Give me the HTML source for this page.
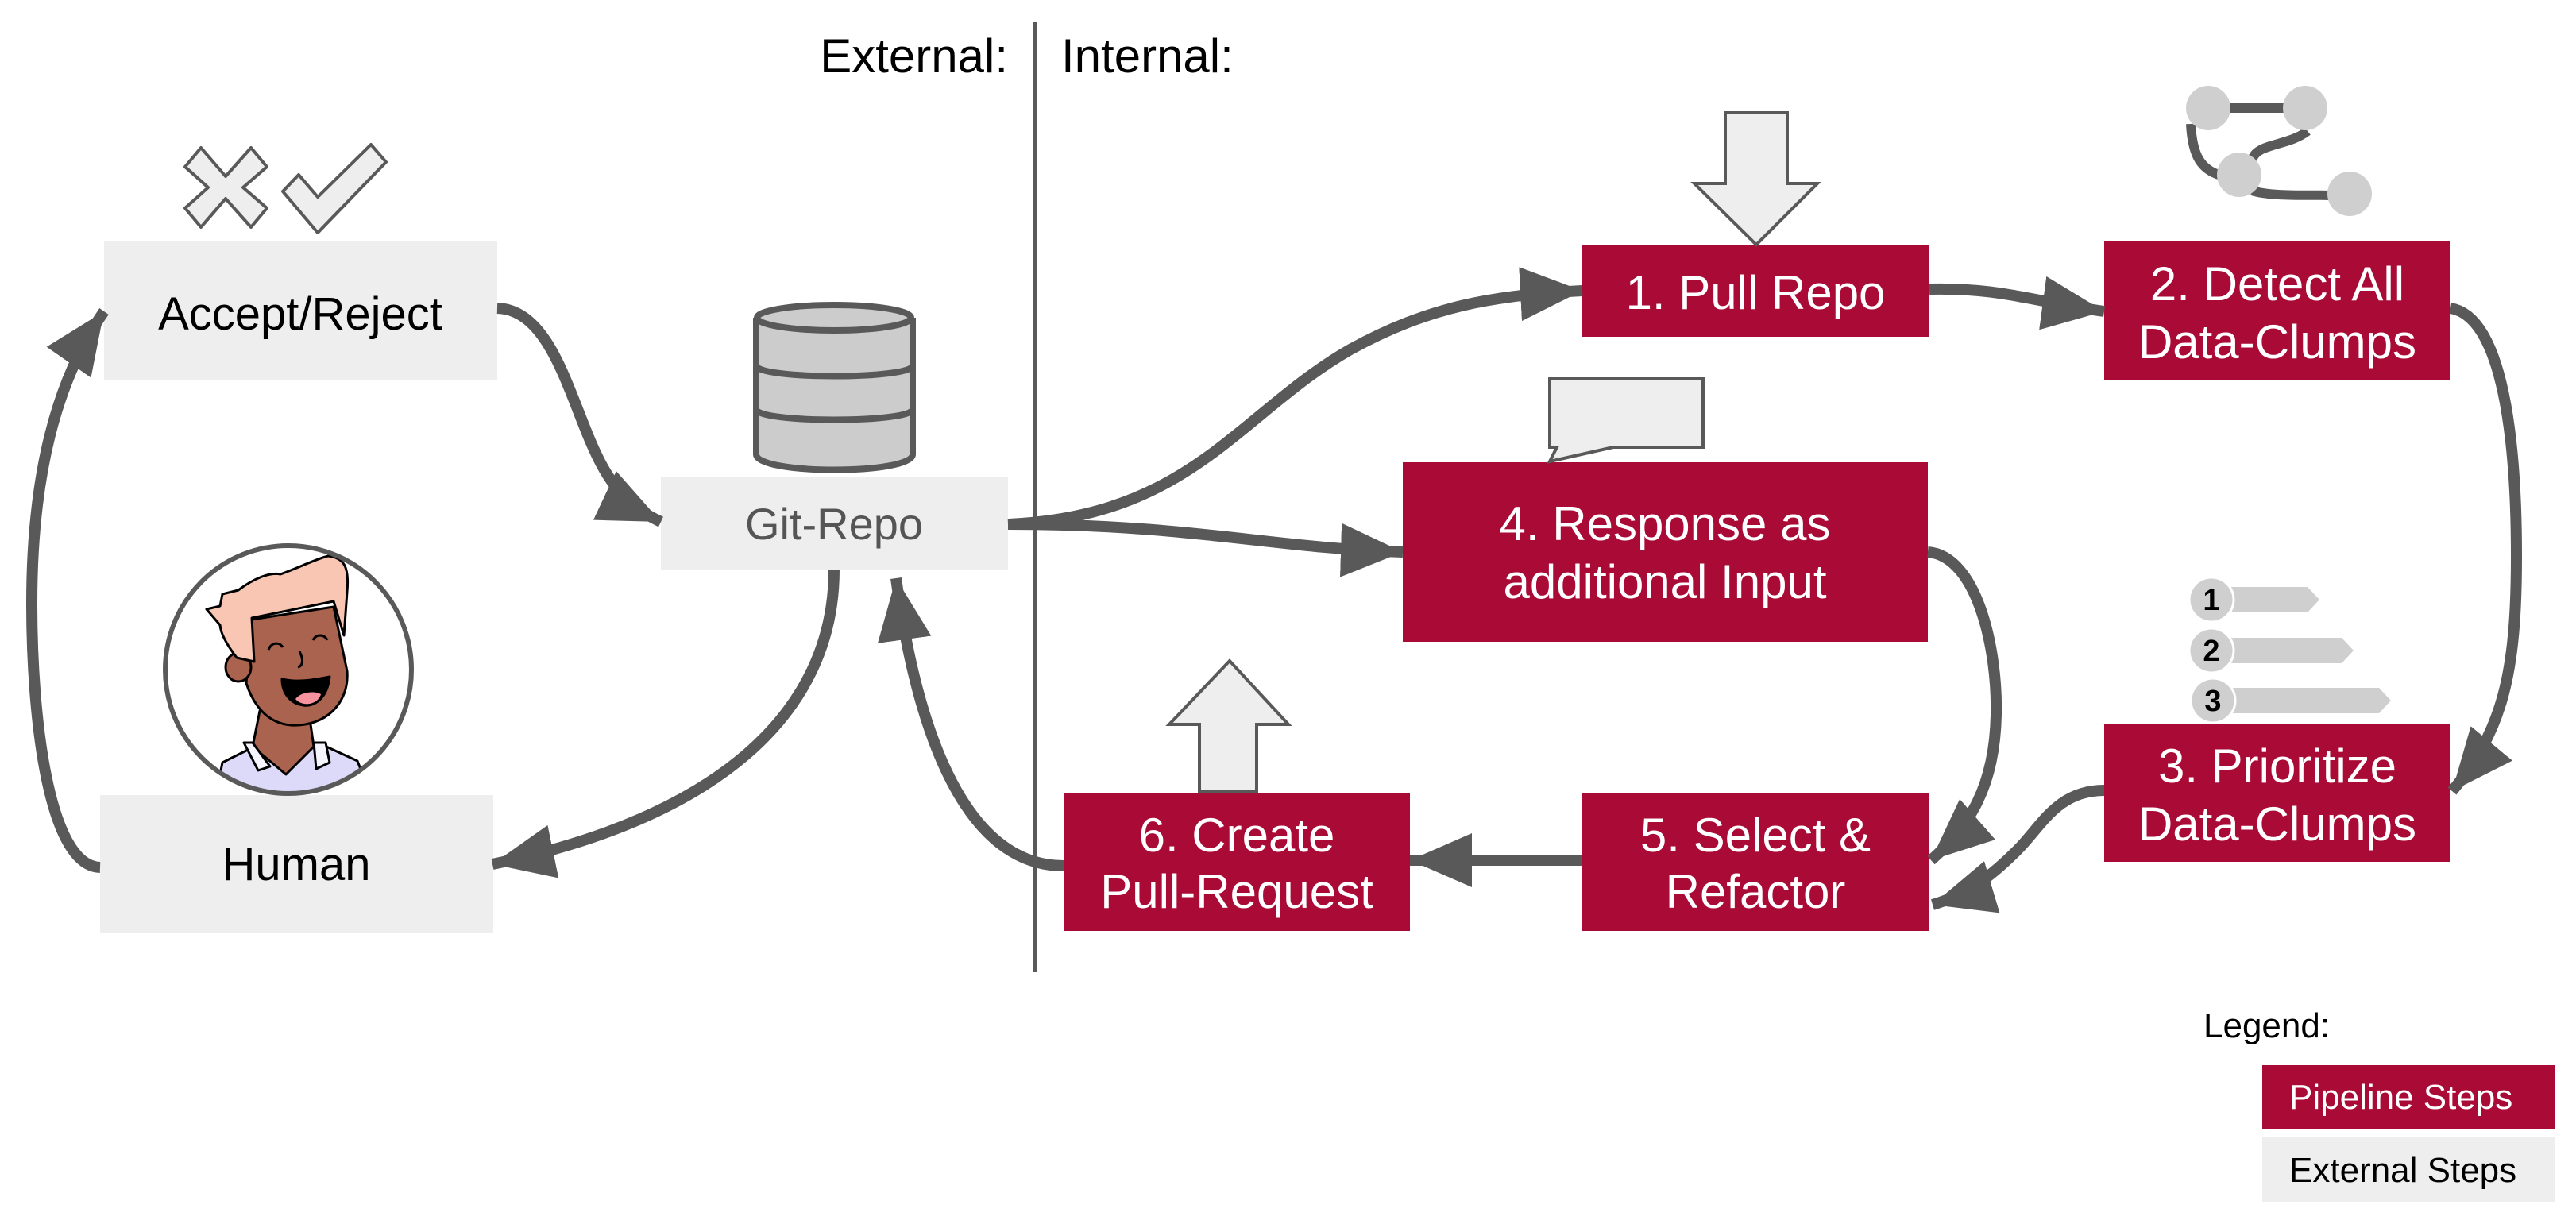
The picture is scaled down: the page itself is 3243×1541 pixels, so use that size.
<!DOCTYPE html>
<html><head><meta charset="utf-8"><style>
html,body{margin:0;padding:0;background:#fff;}
svg{display:block;}
text{font-family:"Liberation Sans",Arial,sans-serif;}
</style></head><body>
<svg width="3243" height="1541" viewBox="0 0 3243 1541" xmlns="http://www.w3.org/2000/svg">
<defs>
<marker id="ah" markerUnits="userSpaceOnUse" markerWidth="82" markerHeight="72" refX="78" refY="34" orient="auto">
<path d="M0,0 L78,34 L0,68 z" fill="#595959"/>
</marker>
<clipPath id="cc"><ellipse cx="363" cy="843" rx="155" ry="155"/></clipPath>
</defs>

<text x="1269" y="91" font-size="60" text-anchor="end" fill="#000">External:</text>
<text x="1336" y="91" font-size="60" fill="#000">Internal:</text>
<line x1="1303" y1="28" x2="1303" y2="1224" stroke="#595959" stroke-width="5"/>

<rect x="131" y="304" width="495" height="175" fill="#eeeeee"/>
<text x="378" y="415" font-size="58" text-anchor="middle">Accept/Reject</text>
<rect x="832" y="601" width="437" height="116" fill="#eeeeee"/>
<text x="1050" y="679" font-size="56" text-anchor="middle" fill="#555">Git-Repo</text>
<rect x="126" y="1001" width="495" height="174" fill="#eeeeee"/>
<text x="373" y="1108" font-size="58" text-anchor="middle">Human</text>

<g fill="#a90a36">
<rect x="1992" y="308" width="437" height="116"/>
<rect x="2649" y="304" width="436" height="175"/>
<rect x="1766" y="582" width="661" height="226"/>
<rect x="2649" y="911" width="436" height="174"/>
<rect x="1992" y="998" width="437" height="174"/>
<rect x="1339" y="998" width="436" height="174"/>
</g>
<g fill="#fff" font-size="60" text-anchor="middle">
<text x="2210" y="389">1. Pull Repo</text>
<text x="2867" y="378">2. Detect All</text>
<text x="2867" y="451">Data-Clumps</text>
<text x="2096" y="680">4. Response as</text>
<text x="2096" y="753">additional Input</text>
<text x="2867" y="985">3. Prioritize</text>
<text x="2867" y="1058">Data-Clumps</text>
<text x="2210" y="1072">5. Select &amp;</text>
<text x="2210" y="1143">Refactor</text>
<text x="1557" y="1072">6. Create</text>
<text x="1557" y="1143">Pull-Request</text>
</g>

<g fill="none" stroke="#595959" stroke-width="14" marker-end="url(#ah)">
<path d="M626,388 C700,390 720,520 760,590 C780,625 800,642 832,657"/>
<path d="M126,1092 C60,1090 40,900 40,760 C40,600 70,480 131,392"/>
<path d="M1050,717 C1050,900 900,1030 620,1088"/>
<path d="M1339,1090 C1230,1090 1160,960 1128,728"/>
<path d="M1269,660 C1500,650 1560,520 1700,440 C1800,385 1880,372 1992,366"/>
<path d="M1269,660 C1500,660 1600,690 1766,695"/>
<path d="M2429,364 C2520,362 2560,380 2649,392"/>
<path d="M3085,388 C3160,400 3168,600 3168,700 C3168,850 3150,920 3087,996"/>
<path d="M2427,695 C2490,700 2515,820 2513,900 C2511,990 2480,1040 2431,1083"/>
<path d="M2649,995 C2590,995 2570,1040 2540,1070 C2510,1100 2480,1125 2433,1139"/>
<path d="M1992,1083 L1775,1083"/>
</g>

<g fill="#eeeeee" stroke="#595959" stroke-width="4" stroke-linejoin="round">
<path d="M253,186 L284,222 L316,186 L336,210 L306,236 L336,262 L316,286 L284,250 L253,286 L233,262 L262,236 L233,210 Z"/>
<path d="M356,241 L376,220 L400,248 L467,182 L486,204 L400,293 Z"/>
</g>

<g stroke="#595959" stroke-width="8" fill="#cccccc">
<path d="M952,400 L952,572 C952,598 1149,598 1149,572 L1149,400"/>
<ellipse cx="1050" cy="400" rx="97" ry="16"/>
<path d="M952,460 C952,478 1149,478 1149,460" fill="none"/>
<path d="M952,515 C952,533 1149,533 1149,515" fill="none"/>
</g>

<ellipse cx="363" cy="843" rx="155" ry="156" fill="#fff"/>
<g clip-path="url(#cc)" stroke="#000" stroke-width="3" stroke-linejoin="round">
<path d="M270,1010 L280,960 L330,935 L400,935 L450,958 L470,1010 Z" fill="#dcdaf8"/>
<path d="M327,895 L318,940 L360,975 L395,940 L390,905 Z" fill="#a9634f"/>
<path d="M307,935 L318,935 L340,965 L325,970 Z" fill="#f6f5fd"/>
<path d="M395,935 L410,935 L415,960 L398,968 Z" fill="#f6f5fd"/>
<path d="M317,780 L420,764 L437,845 C440,885 410,915 367,913 C335,911 318,885 310,860 Z" fill="#a9634f"/>
<ellipse cx="300" cy="840" rx="16" ry="18" fill="#a9634f"/>
<path d="M260,767 L277,763 L280,748 L300,743 C320,728 340,720 353,723 C380,713 400,703 413,700 C432,702 440,712 437,745 L433,800 L420,757 L317,778 L320,833 L298,828 C288,815 278,800 277,787 Z" fill="#f8c6b2"/>
<path d="M355,855 C375,860 400,855 415,852 C412,880 395,890 382,888 C365,886 355,872 355,855 Z" fill="#000"/>
<path d="M372,880 C380,870 398,870 404,874 C400,888 380,890 372,880 Z" fill="#f7929f" stroke="none"/>
<path d="M338,818 C342,808 352,808 356,815" fill="none"/>
<path d="M394,806 C398,798 408,798 412,806" fill="none"/>
<path d="M377,820 C382,830 382,838 375,840" fill="none"/>
</g>
<ellipse cx="363" cy="843" rx="155" ry="156" fill="none" stroke="#595959" stroke-width="6"/>

<path d="M1510,996 L1510,912 L1472,912 L1548,832 L1622,912 L1582,912 L1582,996 Z" fill="#eeeeee" stroke="#595959" stroke-width="4"/>
<path d="M2172,142 L2250,142 L2250,231 L2288,231 L2211,308 L2133,231 L2172,231 Z" fill="#eeeeee" stroke="#595959" stroke-width="4"/>
<path d="M1951,477 L2144,477 L2144,563 L2031,563 L1951,581 L1960,563 L1951,563 Z" fill="#eeeeee" stroke="#595959" stroke-width="4"/>

<g fill="none" stroke="#595959" stroke-width="12">
<line x1="2780" y1="136" x2="2902" y2="136"/>
<path d="M2758,156 C2760,195 2770,215 2800,222"/>
<path d="M2905,165 C2880,185 2835,180 2835,205"/>
<path d="M2835,240 C2860,248 2910,245 2935,246"/>
</g>
<g fill="#cfcfcf">
<circle cx="2780" cy="136" r="28"/>
<circle cx="2902" cy="136" r="28"/>
<circle cx="2819" cy="220" r="28"/>
<circle cx="2958" cy="244" r="28"/>
</g>

<g fill="#cfcfcf">
<path d="M2784,739 L2905,739 L2920,755 L2905,771 L2784,771 Z"/>
<path d="M2784,803 L2948,803 L2963,819 L2948,835 L2784,835 Z"/>
<path d="M2784,866 L2995,866 L3010,882 L2995,898 L2784,898 Z"/>
<circle cx="2784" cy="755" r="28" stroke="#fff" stroke-width="3"/>
<circle cx="2784" cy="819" r="28" stroke="#fff" stroke-width="3"/>
<circle cx="2786" cy="882" r="28" stroke="#fff" stroke-width="3"/>
</g>
<g font-size="38" font-weight="bold" text-anchor="middle" fill="#000">
<text x="2784" y="768">1</text>
<text x="2784" y="832">2</text>
<text x="2786" y="895">3</text>
</g>

<text x="2774" y="1306" font-size="44">Legend:</text>
<rect x="2848" y="1341" width="369" height="80" fill="#a90a36"/>
<text x="2882" y="1396" font-size="44" fill="#fff">Pipeline Steps</text>
<rect x="2848" y="1432" width="369" height="81" fill="#eeeeee"/>
<text x="2882" y="1488" font-size="44" fill="#000">External Steps</text>
</svg>
</body></html>
